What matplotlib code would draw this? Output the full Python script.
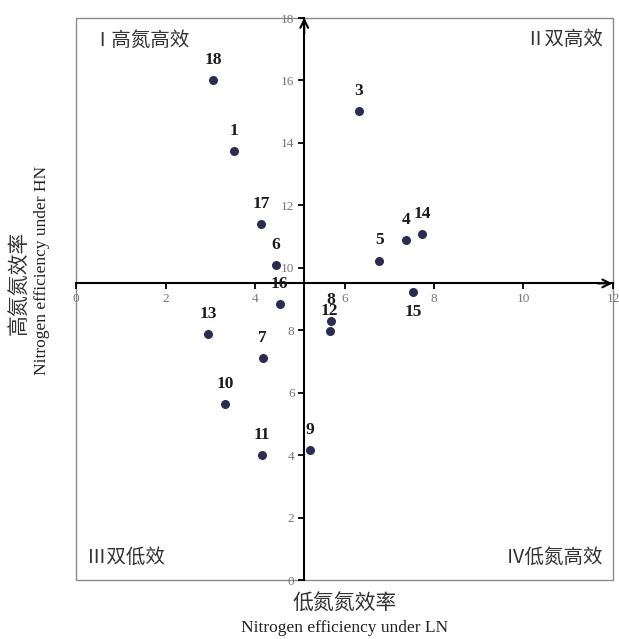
import matplotlib
matplotlib.use('Agg')
import matplotlib.pyplot as plt
from matplotlib.patches import Rectangle

# dati
ids = ['1', '3', '4', '5', '6', '7', '8', '9', '10', '11', '12', '13', '14', '15', '16', '17', '18']
ln_eff = [3.52, 6.32, 7.38, 6.78, 4.46, 4.17, 5.70, 5.22, 3.34, 4.15, 5.67, 2.96, 7.73, 7.54, 4.55, 4.14, 3.07]
hn_eff = [13.74, 15.01, 10.88, 10.23, 10.10, 7.12, 8.31, 4.17, 5.64, 4.00, 7.96, 7.88, 11.07, 9.22, 8.84, 11.39, 16.02]

x_ticks = [0, 2, 4, 6, 8, 10, 12]
y_ticks = [0, 2, 4, 6, 8, 10, 12, 14, 16, 18]
x_cross = 5.1   # posizione asse verticale
y_cross = 9.5   # posizione asse orizzontale

quadrants = ['Ⅰ高氮高效', 'Ⅱ双高效', 'Ⅲ双低效', 'Ⅳ低氮高效']

serif = ['Liberation Serif', 'Noto Sans CJK SC']
cjk = ['Noto Sans CJK SC', 'DejaVu Sans']

fig = plt.figure(figsize=(6.19, 6.39), dpi=100)
ax = fig.add_axes([0.1228, 0.0923, 0.8675, 0.8795])
ax.set_xlim(0, 12)
ax.set_ylim(0, 18)

# assi che si incrociano
ax.spines['left'].set_position(('data', x_cross))
ax.spines['bottom'].set_position(('data', y_cross))
for s in ['left', 'bottom']:
    ax.spines[s].set_linewidth(1.5)
    ax.spines[s].set_color('black')
for s in ['top', 'right']:
    ax.spines[s].set_visible(False)

# cornice grigia
ax.add_patch(Rectangle((0, 0), 1, 1, transform=ax.transAxes, fill=False,
                       edgecolor='#8a8a8a', lw=1.0, clip_on=False, zorder=0))

ax.annotate('', xy=(12.05, y_cross), xytext=(11.6, y_cross),
            arrowprops=dict(arrowstyle='->', lw=1.5, color='black', mutation_scale=14),
            annotation_clip=False)
ax.annotate('', xy=(x_cross, 18.1), xytext=(x_cross, 17.4),
            arrowprops=dict(arrowstyle='->', lw=1.5, color='black', mutation_scale=14),
            annotation_clip=False)

ax.set_xticks(x_ticks)
ax.set_yticks(y_ticks)
ax.tick_params(axis='both', direction='out', length=4, width=1.3, color='black',
               labelsize=9.5, labelcolor='#777777', pad=3)
for lab in ax.get_xticklabels() + ax.get_yticklabels():
    lab.set_family('Liberation Serif')

ax.scatter(ln_eff, hn_eff, s=30, color='#2a2c50', zorder=3)

below = {'15'}
for name, xv, yv in zip(ids, ln_eff, hn_eff):
    dy = -14 if name in below else 14.5
    ax.annotate(name, (xv, yv), xytext=(0, dy), textcoords='offset points',
                ha='center', va='center', fontsize=12.5, fontweight='bold',
                family='Liberation Serif', color='#1a1a1a')

# etichette dei quadranti
qkw = dict(transform=ax.transAxes, va='center', fontsize=14, family=cjk, color='#333333')
ax.text(0.03, 0.961, quadrants[0], ha='left', **qkw)
ax.text(0.981, 0.961, quadrants[1], ha='right', **qkw)
ax.text(0.02, 0.041, quadrants[2], ha='left', **qkw)
ax.text(0.981, 0.041, quadrants[3], ha='right', **qkw)

fig.text(0.557, 0.056, '低氮氮效率', ha='center', va='center', fontsize=15,
         family=cjk, color='#333333')
fig.text(0.557, 0.017, 'Nitrogen efficiency under LN', ha='center', va='center',
         fontsize=12.5, family=serif, color='#222222')
fig.text(0.030, 0.557, '高氮氮效率', ha='center', va='center', fontsize=15,
         family=cjk, color='#333333', rotation=90)
fig.text(0.068, 0.577, 'Nitrogen efficiency under HN', ha='center', va='center',
         fontsize=12.5, family=serif, color='#222222', rotation=90)

fig.savefig('out.png', dpi=100)
